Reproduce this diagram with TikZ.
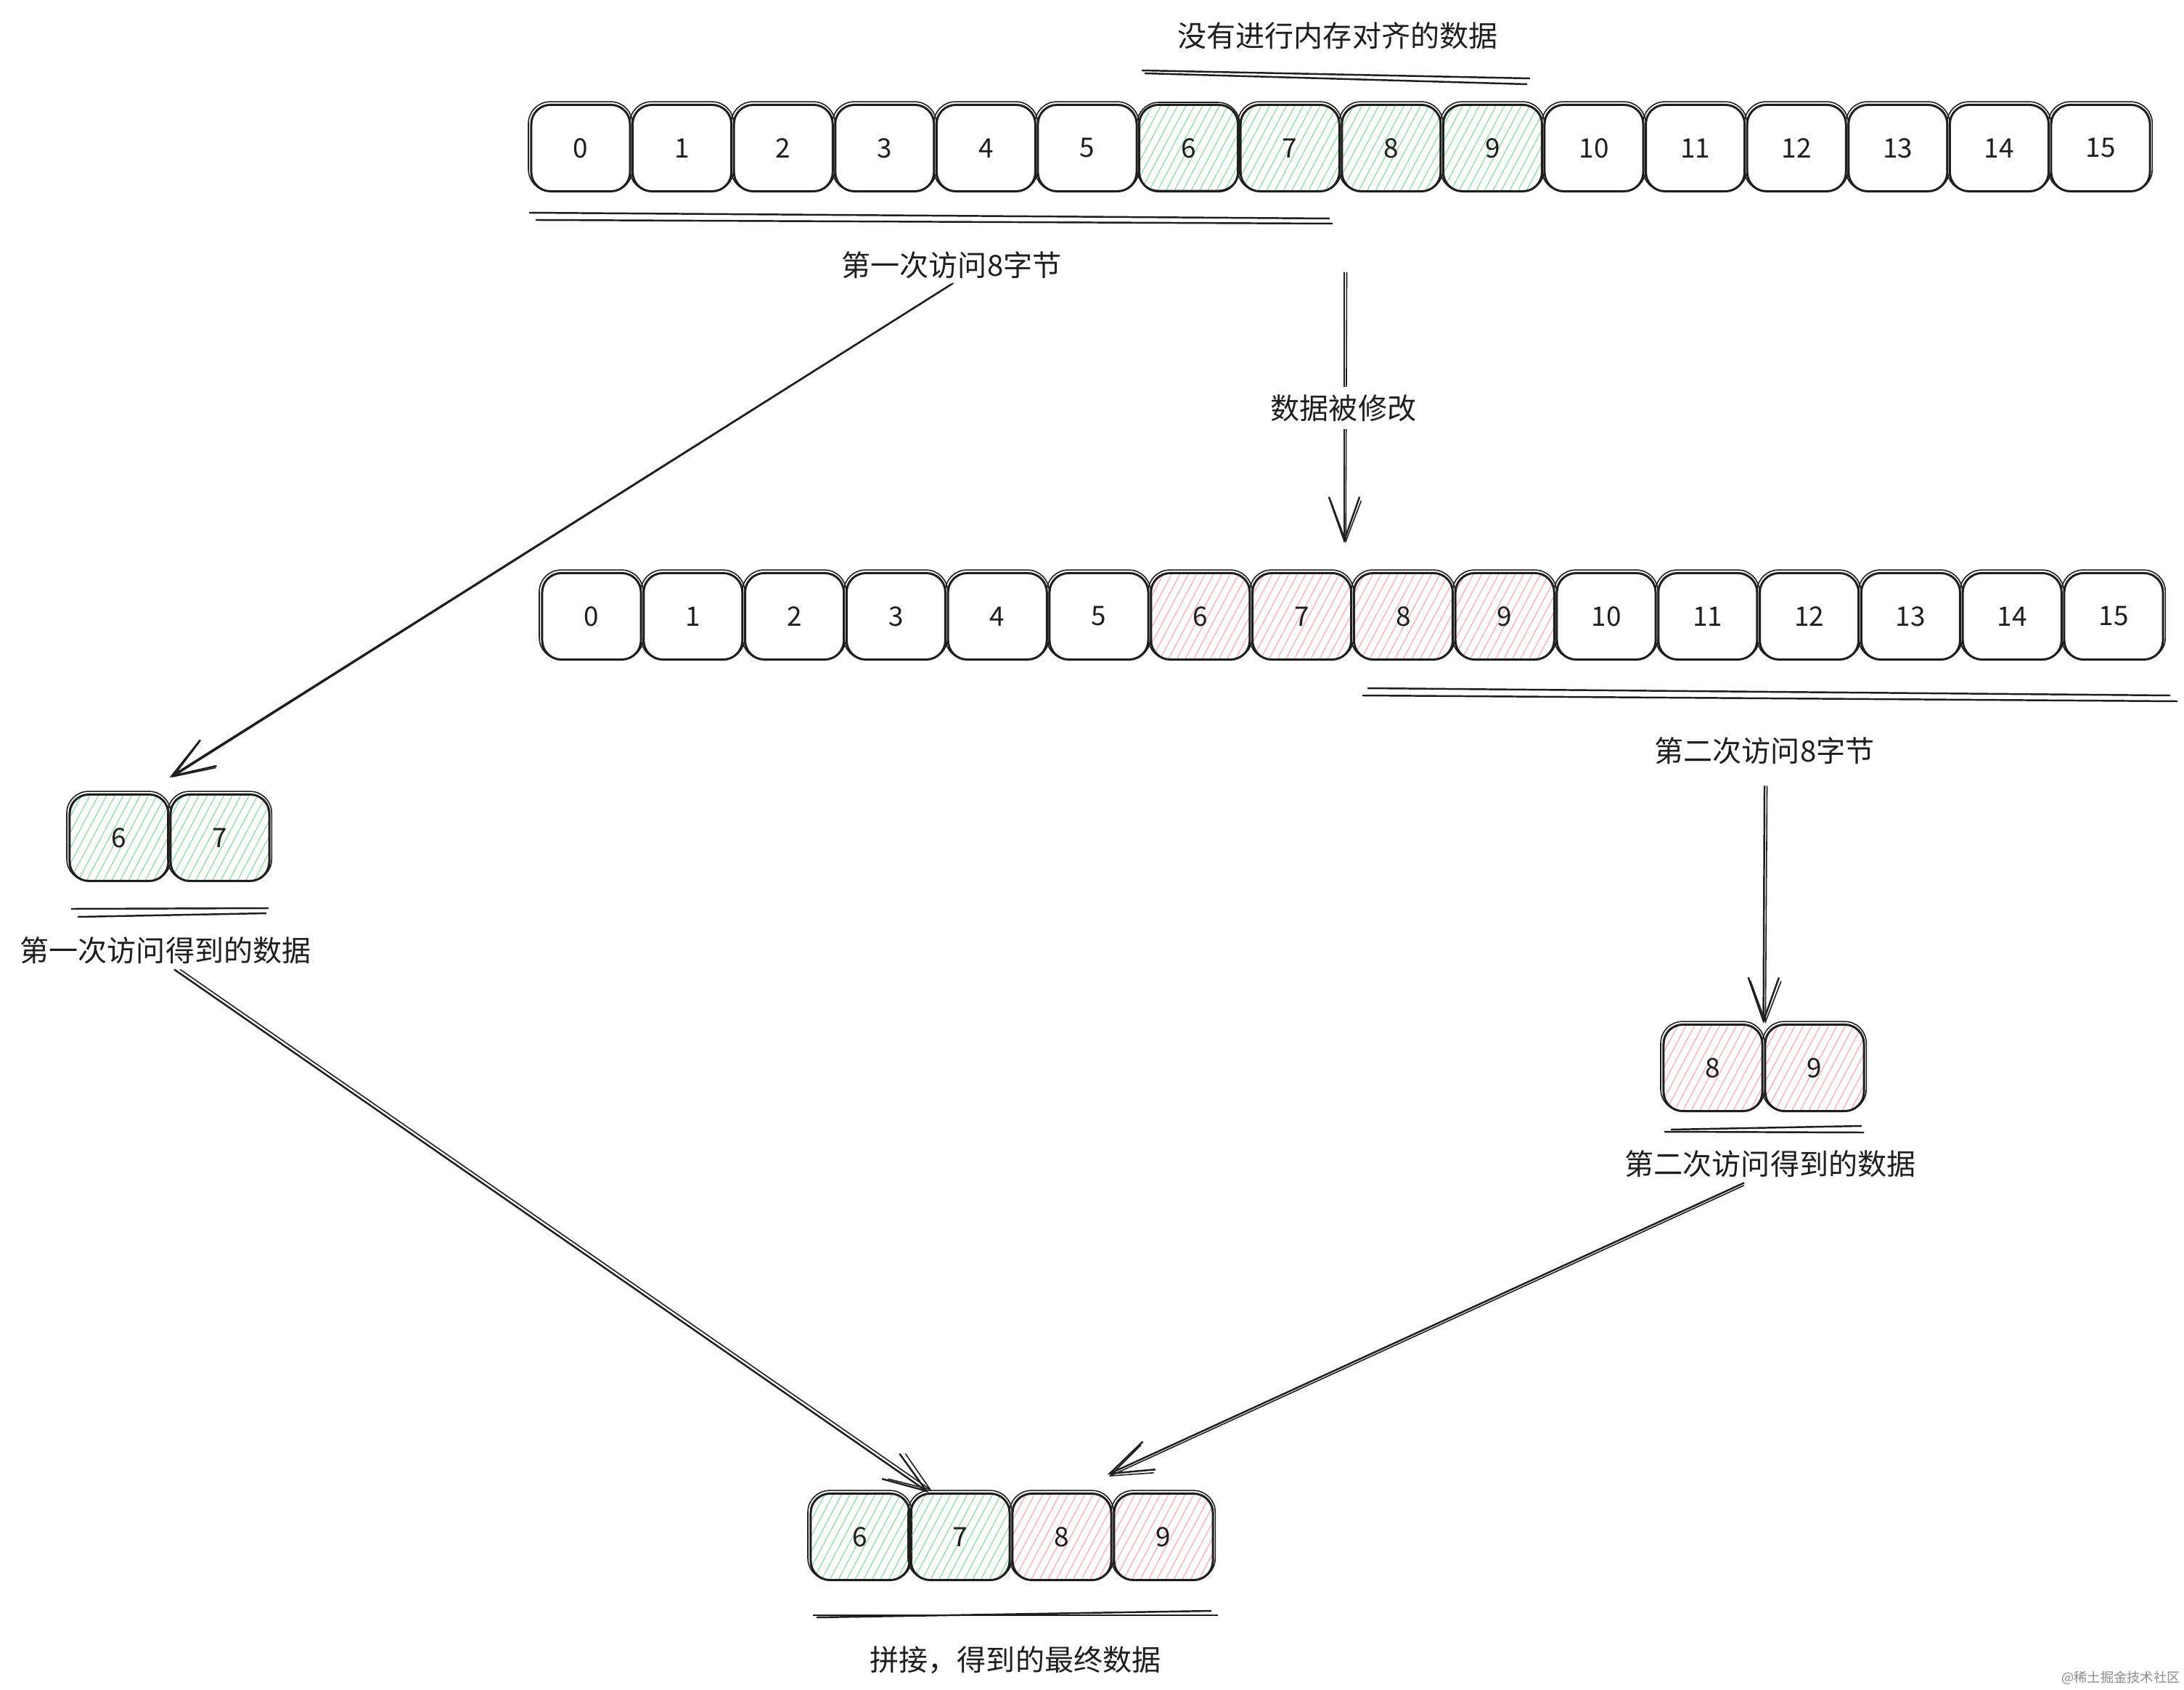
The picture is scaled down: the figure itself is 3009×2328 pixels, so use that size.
\documentclass[tikz,border=0pt]{standalone}
\usepackage{fontspec}
\setmainfont{Noto Sans CJK SC}
\usetikzlibrary{arrows.meta,patterns.meta}
\definecolor{greenh}{RGB}{140,222,160}
\definecolor{redh}{RGB}{255,170,180}
\definecolor{ink}{RGB}{30,30,30}
\tikzset{
  cellst/.style={draw=ink, line width=0.85pt, rounded corners=7.5pt, minimum width=1.36cm,
    minimum height=1.19cm, inner sep=0pt, font=\fontsize{10.5pt}{12pt}\selectfont, text=ink},
  cellsk/.style={draw=ink, line width=0.45pt, rounded corners=8.5pt},
  nofill/.style={},
  greencell/.style={pattern={Lines[angle=62,distance=2.9pt,line width=0.35pt]}, pattern color=greenh},
  redcell/.style={pattern={Lines[angle=62,distance=2.9pt,line width=0.35pt]}, pattern color=redh},
  lab/.style={font=\fontsize{11.4pt}{14pt}\selectfont, text=ink, inner sep=2pt},
  uline/.style={draw=ink, line width=0.7pt},
  arr/.style={draw=ink, line width=0.7pt, -{Straight Barb[length=17pt,width=12pt]}},
  arrb/.style={draw=ink, line width=0.45pt, -{Straight Barb[length=16pt,width=12pt]}},
}
\newcommand{\mycell}[5]{%
  \node[cellst,#5] (#1) at (#2,#3) {#4};
  \draw[cellsk] ([shift={(-0.7pt,0.5pt)}]#1.south west) rectangle ([shift={(0.5pt,0.8pt)}]#1.north east);
}
\begin{document}
\begin{tikzpicture}[x=0.01cm,y=-0.01cm]
\fill[white] (0,0) rectangle (3009,2328);
\useasboundingbox (0,0) rectangle (3009,2328);

% title
\node[lab] (title) at (1843,49) {没有进行内存对齐的数据};
\draw[uline] (1573,97) -- (2108,108);
\draw[uline] (1577,101) -- (2104,116);

% row 1
\foreach \i in {0,1,2,3,4,5,10,11,12,13,14,15} {
  \pgfmathsetmacro\xx{800+139.6*\i}
  \mycell{r1b\i}{\xx}{204}{\i}{nofill}
}
\foreach \i in {6,7,8,9} {
  \pgfmathsetmacro\xx{800+139.6*\i}
  \mycell{r1b\i}{\xx}{204}{\i}{greencell}
}
\draw[uline] (729,293) -- (1832,301);
\draw[uline] (738,303) -- (1836,308);
\node[lab] (t1) at (1311,365) {第一次访问8字节};

% modification arrow
\coordinate (m1) at (1852,375);
\coordinate (m2) at (1852,748);
\draw[arr] (m1) -- (m2);
\draw[arrb] ([xshift=1pt]m1) -- ([xshift=0.6pt]m2);
\node[lab, fill=white, inner sep=3pt] (lbl) at (1851,562) {数据被修改};

% row 2
\foreach \i in {0,1,2,3,4,5,10,11,12,13,14,15} {
  \pgfmathsetmacro\xx{815+139.8*\i}
  \mycell{r2b\i}{\xx}{849}{\i}{nofill}
}
\foreach \i in {6,7,8,9} {
  \pgfmathsetmacro\xx{815+139.8*\i}
  \mycell{r2b\i}{\xx}{849}{\i}{redcell}
}
\draw[uline] (1884,948) -- (2990,958);
\draw[uline] (1877,958) -- (3000,966);
\node[lab] (t2) at (2431,1034) {第二次访问8字节};

% pair 6 7
\mycell{p6}{164}{1154}{6}{greencell}
\mycell{p7}{303}{1154}{7}{greencell}
\draw[uline] (98,1252) -- (370,1251);
\draw[uline] (107,1263) -- (367,1258);
\node[lab] (t3) at (228,1309) {第一次访问得到的数据};

% pair 8 9
\mycell{q8}{2360}{1471}{8}{redcell}
\mycell{q9}{2500}{1471}{9}{redcell}
\draw[uline] (2302,1556) -- (2565,1551);
\draw[uline] (2293,1559) -- (2568,1560);
\node[lab] (t4) at (2439,1603) {第二次访问得到的数据};

% bottom row
\mycell{c6}{1185}{2117}{6}{greencell}
\mycell{c7}{1323}{2117}{7}{greencell}
\mycell{c8}{1463}{2117}{8}{redcell}
\mycell{c9}{1603}{2117}{9}{redcell}
\draw[uline] (1120,2225) -- (1678,2225);
\draw[uline] (1125,2228) -- (1669,2219);
\node[lab] (t5) at (1399,2287) {拼接，得到的最终数据};

% arrows
\draw[arr] (t1.south) -- ([yshift=0.22cm]p6.north east);
\draw[arrb] ([shift={(0.8pt,0.4pt)}]t1.south) -- ([shift={(0.9pt,0.22cm)}]p6.north east);

\draw[arr] ([yshift=-0.22cm]t2.south) -- (q8.north east);
\draw[arrb] ([shift={(1pt,-0.22cm)}]t2.south) -- ([xshift=0.8pt]q8.north east);

\draw[arr] ([xshift=0.12cm]t3.south) -- ([xshift=0.26cm]c7.north west);
\draw[arrb] ([xshift=0.2cm]t3.south) -- ([shift={(0.3cm,0.8pt)}]c7.north west);

\draw[arr] ([xshift=-0.36cm]t4.south) -- ([shift={(-0.07cm,0.245cm)}]c8.north east);
\draw[arrb] ([shift={(-0.36cm,-1pt)}]t4.south) -- ([shift={(-0.05cm,0.22cm)}]c8.north east);

% watermark
\node[font=\fontsize{5.2pt}{6pt}\selectfont, text=black!45, inner sep=0pt] (wm) at (2922,2311) {@稀土掘金技术社区};
\end{tikzpicture}
\end{document}
